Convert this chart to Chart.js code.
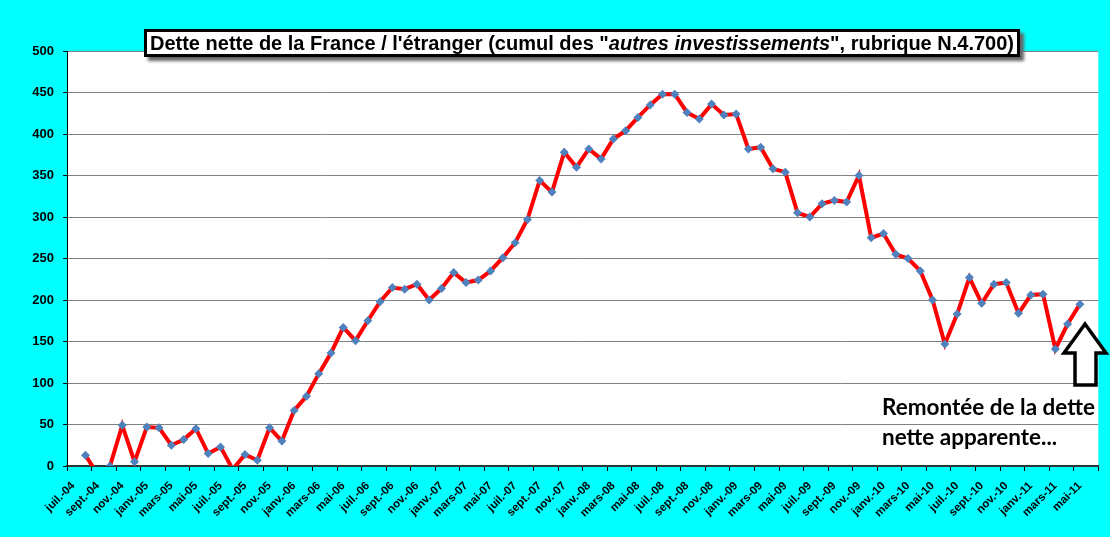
<!DOCTYPE html>
<html>
<head>
<meta charset="utf-8">
<script src="https://cdn.jsdelivr.net/npm/chart.js@4.4.1/dist/chart.umd.min.js"></script>
<style>
    html, body { margin: 0; padding: 0; background: #00ffff; }
    #wrap { position: relative; width: 1110px; height: 537px; overflow: hidden; }
    #title {
        position: absolute; left: 144px; top: 29px; width: 870px; height: 22px;
        border: 3px solid #000; background: #fff; box-shadow: 4px 4px 3px #666;
        font: bold 20px "Liberation Sans", Arial, sans-serif; line-height: 22px;
        text-align: center; color: #000; white-space: nowrap;
    }
    #note {
        position: absolute; left: 882px; top: 392px;
        font: bold 22.5px Lato, "Noto Sans", sans-serif; line-height: 30px; color: #000;
    }
    #arrow { position: absolute; left: 0; top: 0; }
</style>
</head>
<body>
<div id="wrap">
    <canvas id="debtChart" width="1110" height="537"></canvas>
    <div id="title">Dette nette de la France / l'étranger (cumul des "<i>autres investissements</i>", rubrique N.4.700)</div>
    <svg id="arrow" width="1110" height="537">
        <polygon points="1085,324 1106,353 1096,353 1096,385 1075,385 1075,353 1064,353"
                 fill="#fff" stroke="#000" stroke-width="3.5" stroke-linejoin="miter"/>
    </svg>
    <div id="note">Remontée de la dette<br>nette apparente...</div>
</div>
<script>
// months from juil.-04 to juin-11 (last one empty)
const monthNames = ['janv.', 'févr.', 'mars', 'avr.', 'mai', 'juin', 'juil.', 'août', 'sept.', 'oct.', 'nov.', 'déc.'];
const startMonth = 6; // juil.
const startYear = 4;  // 2004
const monthCount = 84;

// net debt, billions EUR
const netDebt = [
    null, 13, -10, 0, 49, 5, 47, 46, 25, 32, 45, 15,
    23, -4, 14, 7, 46, 30, 67, 84, 111, 136, 167, 151,
    175, 198, 215, 213, 219, 200, 214, 233, 221, 224, 235, 251,
    269, 297, 344, 330, 378, 360, 382, 370, 394, 404, 420, 435,
    448, 448, 426, 418, 436, 423, 424, 382, 384, 358, 354, 305,
    300, 316, 320, 318, 350, 275, 280, 255, 250, 235, 200, 147,
    183, 227, 196, 219, 221, 184, 206, 207, 141, 171, 195, null
];

const yMin = 0;
const yMax = 500;
const yStep = 50;

const labels = [];
for (let i = 0; i < monthCount; i++) {
    const m = (startMonth + i) % 12;
    const y = startYear + Math.floor((startMonth + i) / 12);
    labels.push(monthNames[m] + '-' + String(y).padStart(2, '0'));
}

const plotBackground = {
    id: 'plotBackground',
    beforeDraw(chart) {
        const { ctx, chartArea } = chart;
        ctx.save();
        ctx.fillStyle = '#fff';
        ctx.fillRect(chartArea.left, chartArea.top, chartArea.right - chartArea.left, chartArea.bottom - chartArea.top);
        ctx.restore();
    }
};

window.onload = () => {
    const ctx = document.getElementById('debtChart').getContext('2d');
    new Chart(ctx, {
        type: 'line',
        data: {
            labels: labels,
            datasets: [{
                label: 'Dette nette',
                data: netDebt,
                borderColor: '#ff0000',
                borderWidth: 4,
                tension: 0,
                pointStyle: 'rectRot',
                pointRadius: 4.5,
                pointBackgroundColor: '#4f81bd',
                pointBorderColor: '#4f81bd',
                pointBorderWidth: 0,
                clip: { left: 6, top: 6, right: 6, bottom: 0 }
            }]
        },
        options: {
            responsive: false,
            animation: false,
            layout: { padding: { top: 51, right: 8, left: 0, bottom: 0 } },
            plugins: {
                legend: { display: false },
                tooltip: { enabled: false }
            },
            scales: {
                x: {
                    offset: true,
                    afterFit: (scale) => { scale.height = 71; },
                    grid: {
                        offset: true,
                        drawOnChartArea: false,
                        drawTicks: true,
                        tickLength: 5,
                        color: (c) => (c.index === undefined || c.index % 2 === 0) ? '#000' : 'rgba(0,0,0,0)'
                    },
                    border: { color: '#333', width: 2 },
                    ticks: {
                        autoSkip: false,
                        minRotation: 45,
                        maxRotation: 45,
                        padding: 8,
                        color: '#000',
                        font: { family: '"Liberation Sans", Arial', size: 11.5, weight: 'bold' },
                        callback: (val, index) => index % 2 === 0 ? labels[index] : ''
                    }
                },
                y: {
                    min: yMin,
                    max: yMax,
                    afterFit: (scale) => { scale.width = 67; },
                    grid: { color: '#808080', lineWidth: 1, tickColor: '#000', tickLength: 4 },
                    border: { color: '#000', width: 1 },
                    ticks: {
                        stepSize: yStep,
                        padding: 9,
                        color: '#000',
                        font: { family: '"Liberation Sans", Arial', size: 13, weight: 'bold' }
                    }
                }
            }
        },
        plugins: [plotBackground]
    });
};
</script>
</body>
</html>
